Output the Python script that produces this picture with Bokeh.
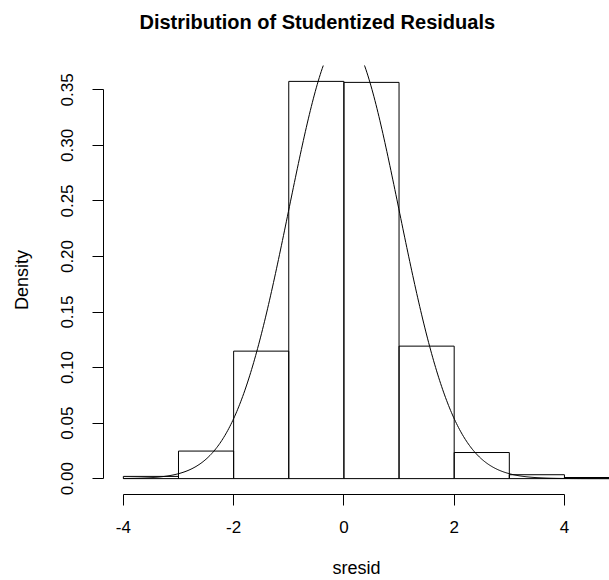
import numpy as np
from bokeh.plotting import figure
from bokeh.models import FixedTicker, PrintfTickFormatter, Range1d, ColumnDataSource, Title
from bokeh.embed import file_html
from bokeh.resources import INLINE

# ---- data ----
bin_left = [-4, -3, -2, -1, 0, 1, 2, 3, 4]
bin_right = [-3, -2, -1, 0, 1, 2, 3, 4, 5]
density = [0.002, 0.0248, 0.1148, 0.3577, 0.3568, 0.1193, 0.0235, 0.0035, 0.001]
x_ticks = [-4, -2, 0, 2, 4]
y_ticks = [0.0, 0.05, 0.10, 0.15, 0.20, 0.25, 0.30, 0.35]
curve_mean = 0.0
curve_sd = 1.0
curve_from, curve_to = -4.0, 5.0

FONT = "Liberation Sans"

p = figure(width=609, height=580, output_backend="svg", toolbar_location=None,
           x_range=Range1d(-4.36, 4.817), y_range=Range1d(-0.0143, 0.372),
           min_border_left=103, min_border_right=0, min_border_top=65, min_border_bottom=86,
           x_axis_label="sresid", y_axis_label="Density",
           title="Distribution of Studentized Residuals")

p.outline_line_color = None
p.grid.visible = False
p.background_fill_color = "white"
p.border_fill_color = "white"

src = ColumnDataSource(dict(left=bin_left, right=bin_right, top=density,
                            bottom=[0] * len(density)))
p.quad(left="left", right="right", top="top", bottom="bottom", source=src,
       fill_color=None, line_color="black", line_width=1)

xs = np.linspace(curve_from, curve_to, 500)
ys = np.exp(-0.5 * ((xs - curve_mean) / curve_sd) ** 2) / (curve_sd * np.sqrt(2 * np.pi))
p.line(xs, ys, line_color="black", line_width=1)

# spacer between frame and title (pushes the title up)
p.add_layout(Title(text=" ", text_font_size="2px", standoff=29), "above")

# title
p.title.text_font = FONT
p.title.text_font_size = "20px"
p.title.text_font_style = "bold"
p.title.text_color = "black"
p.title.align = "left"
p.title.vertical_align = "bottom"
p.title.offset = 36
p.title.standoff = 0

# x axis
xa = p.xaxis[0]
xa.ticker = FixedTicker(ticks=x_ticks)
xa.bounds = (min(x_ticks), max(x_ticks))
xa.formatter = PrintfTickFormatter(format="%d")
xa.minor_tick_line_color = None
xa.major_tick_in = 0
xa.major_tick_out = 11
xa.major_label_standoff = 15
xa.major_label_text_font = FONT
xa.major_label_text_font_size = "17px"
xa.major_label_text_color = "black"
xa.axis_label_text_font = FONT
xa.axis_label_text_font_size = "18px"
xa.axis_label_text_font_style = "normal"
xa.axis_label_text_color = "black"
xa.axis_label_standoff = 22
xa.axis_line_color = "black"
xa.major_tick_line_color = "black"

# y axis
ya = p.yaxis[0]
ya.ticker = FixedTicker(ticks=y_ticks)
ya.bounds = (min(y_ticks), max(y_ticks))
ya.formatter = PrintfTickFormatter(format="%.2f")
ya.minor_tick_line_color = None
ya.major_tick_in = 0
ya.major_tick_out = 11
ya.major_label_orientation = "vertical"
ya.major_label_standoff = 19
ya.major_label_text_font = FONT
ya.major_label_text_font_size = "17px"
ya.major_label_text_color = "black"
ya.axis_label_text_font = FONT
ya.axis_label_text_font_size = "18px"
ya.axis_label_text_font_style = "normal"
ya.axis_label_text_color = "black"
ya.axis_label_standoff = 27
ya.axis_line_color = "black"
ya.major_tick_line_color = "black"

open("out.html", "w").write(file_html(p, INLINE))
